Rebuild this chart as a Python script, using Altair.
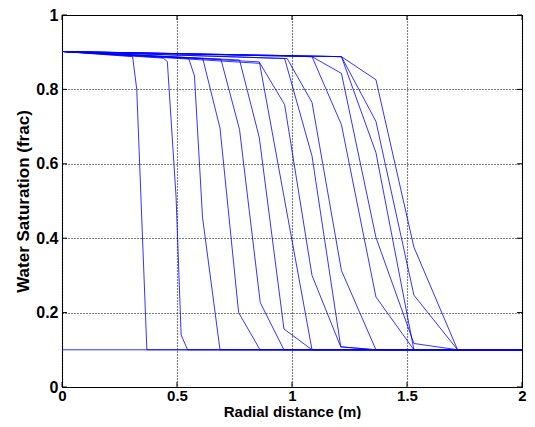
import altair as alt
import pandas as pd

# tick values
x_ticks = [0, 0.5, 1, 1.5, 2]
y_ticks = [0, 0.2, 0.4, 0.6, 0.8, 1]

# saturation profiles
t0_x = [0, 2.0]
t0_y = [0.10, 0.10]
t1_x = [0, 0.307, 0.325, 0.369, 2.0]
t1_y = [0.902, 0.888, 0.80, 0.10, 0.10]
t2_x = [0, 0.44, 0.458, 0.496, 0.518, 0.546, 2.0]
t2_y = [0.902, 0.884, 0.875, 0.51, 0.14, 0.10, 0.10]
t3_x = [0, 0.551, 0.576, 0.611, 0.687, 2.0]
t3_y = [0.902, 0.883, 0.836, 0.456, 0.10, 0.10]
t4_x = [0, 0.612, 0.687, 0.768, 0.861, 2.0]
t4_y = [0.902, 0.883, 0.696, 0.20, 0.10, 0.10]
t5_x = [0, 0.691, 0.772, 0.862, 0.965, 2.0]
t5_y = [0.902, 0.881, 0.692, 0.227, 0.10, 0.10]
t6_x = [0, 0.772, 0.858, 0.965, 1.087, 2.0]
t6_y = [0.902, 0.879, 0.67, 0.156, 0.10, 0.10]
t7_x = [0, 0.858, 1.087, 2.0]
t7_y = [0.902, 0.874, 0.10, 0.10]
t8_x = [0, 0.861, 0.968, 1.087, 1.212, 1.365, 2.0]
t8_y = [0.902, 0.870, 0.759, 0.30, 0.108, 0.10, 0.10]
t9_x = [0, 0.968, 1.087, 1.212, 1.365, 2.0]
t9_y = [0.902, 0.883, 0.621, 0.108, 0.10, 0.10]
t10_x = [0, 0.979, 1.087, 1.215, 1.365, 2.0]
t10_y = [0.902, 0.883, 0.765, 0.313, 0.10, 0.10]
t11_x = [0, 1.087, 1.215, 1.365, 1.53, 2.0]
t11_y = [0.902, 0.888, 0.705, 0.242, 0.10, 0.10]
t12_x = [0, 1.087, 1.215, 1.365, 1.53, 1.72, 2.0]
t12_y = [0.902, 0.888, 0.843, 0.402, 0.117, 0.10, 0.10]
t13_x = [0, 1.215, 1.365, 1.53, 2.0]
t13_y = [0.902, 0.888, 0.63, 0.10, 0.10]
t14_x = [0, 1.215, 1.365, 1.53, 1.72, 2.0]
t14_y = [0.902, 0.888, 0.714, 0.247, 0.10, 0.10]
t15_x = [0, 1.215, 1.365, 1.53, 1.72, 2.0]
t15_y = [0.902, 0.888, 0.826, 0.376, 0.10, 0.10]

profiles = [
    (t0_x, t0_y), (t1_x, t1_y), (t2_x, t2_y), (t3_x, t3_y), (t4_x, t4_y),
    (t5_x, t5_y), (t6_x, t6_y), (t7_x, t7_y), (t8_x, t8_y), (t9_x, t9_y),
    (t10_x, t10_y), (t11_x, t11_y), (t12_x, t12_y), (t13_x, t13_y),
    (t14_x, t14_y), (t15_x, t15_y),
]

rows = []
for k, (xs, ys) in enumerate(profiles):
    for i, (xv, yv) in enumerate(zip(xs, ys)):
        rows.append({"curve": k, "i": i, "r": xv, "sw": yv})
df = pd.DataFrame(rows)

FONT = "Liberation Sans"
W, H = 460, 372

xscale = alt.Scale(domain=[0, 2], nice=False, zero=False)
yscale = alt.Scale(domain=[0, 1], nice=False, zero=False)

lines = alt.Chart(df).mark_line(color="#0000ff", strokeWidth=0.8, clip=True).encode(
    x=alt.X("r:Q", scale=xscale,
            axis=alt.Axis(values=x_ticks, title="Radial distance (m)", format="~g",
                          labelFontSize=15, titleFontSize=15, labelPadding=1,
                          titlePadding=1)),
    y=alt.Y("sw:Q", scale=yscale,
            axis=alt.Axis(values=y_ticks, title="Water Saturation (frac)", format="~g",
                          labelFontSize=16, titleFontSize=17, titlePadding=3,
                          labelPadding=4)),
    detail="curve:N",
    order="i:Q",
)

xt = pd.DataFrame({"v": x_ticks})
yt = pd.DataFrame({"v": y_ticks})
tick_bot = alt.Chart(xt).mark_rule(color="black", strokeWidth=1).encode(
    x=alt.X("v:Q", scale=xscale), y=alt.value(H), y2=alt.value(H - 5))
tick_top = alt.Chart(xt).mark_rule(color="black", strokeWidth=1).encode(
    x=alt.X("v:Q", scale=xscale), y=alt.value(0), y2=alt.value(5))
tick_left = alt.Chart(yt).mark_rule(color="black", strokeWidth=1).encode(
    y=alt.Y("v:Q", scale=yscale), x=alt.value(0), x2=alt.value(5))
tick_right = alt.Chart(yt).mark_rule(color="black", strokeWidth=1).encode(
    y=alt.Y("v:Q", scale=yscale), x=alt.value(W), x2=alt.value(W - 5))

chart = alt.layer(lines, tick_bot, tick_top, tick_left, tick_right).properties(
    width=W, height=H,
    autosize=alt.AutoSizeParams(type="none"),
    padding={"left": 54, "top": 7, "right": 5, "bottom": 32},
).configure_view(
    stroke="black", strokeWidth=1
).configure_axis(
    grid=True, gridColor="black", gridDash=[1, 2], gridWidth=1.2, gridOpacity=1,
    domain=True, domainColor="black", ticks=False, labelFlush=False,
    labelFont=FONT, labelFontWeight="bold", labelColor="black",
    titleFont=FONT, titleFontWeight="bold", titleColor="black",
)

chart.save("out.html", embed_options={"renderer": "svg", "actions": False})
